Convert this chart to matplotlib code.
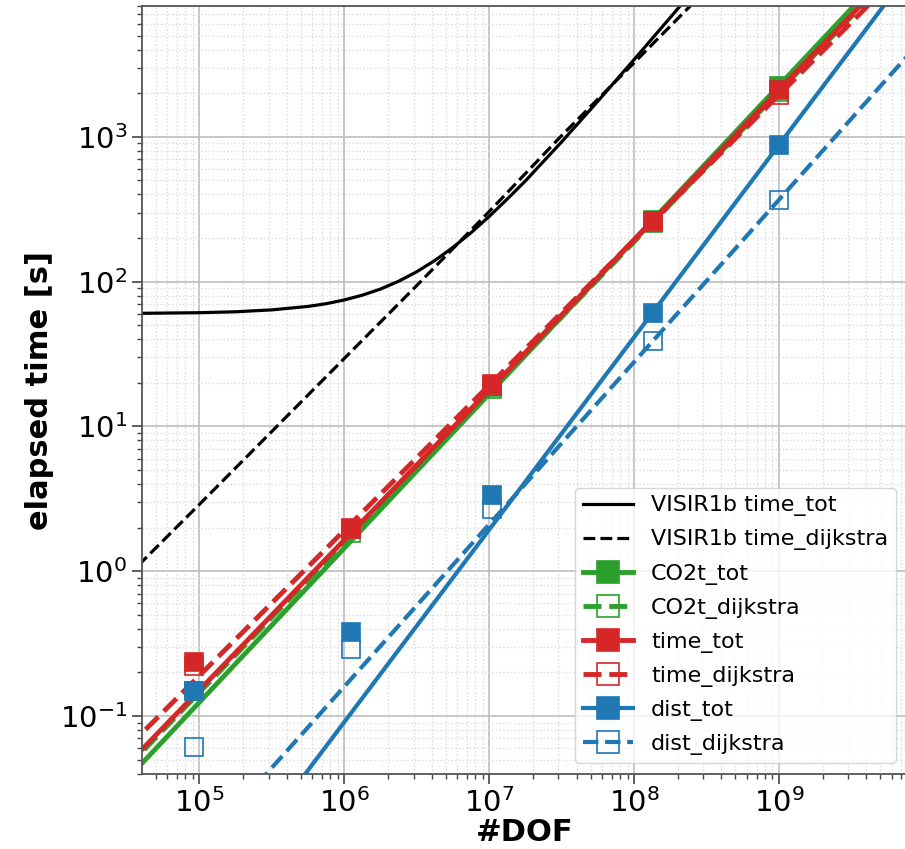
import numpy as np
import matplotlib
matplotlib.use("Agg")
import matplotlib.pyplot as plt
from matplotlib.lines import Line2D

# number of degrees of freedom of each test case
dof = [9.2e4, 1.11e6, 1.05e7, 1.34e8, 1.0e9]

# elapsed times [s]
co2t_tot = [0.15, 1.95, 18.8, 266, 2260]
co2t_dijkstra = [0.148, 1.85, 18.0, 255, 2050]
time_tot = [0.235, 2.0, 19.6, 263, 2110]
time_dijkstra = [0.22, 1.95, 19.0, 260, 1950]
dist_tot = [0.149, 0.38, 3.38, 61, 881]
dist_dijkstra = [0.061, 0.29, 2.67, 38.7, 368]

# VISIR-1b reference curves
visir_tot_dof = [1e4, 3.16e4, 1e5, 1.78e5, 3.16e5, 5.62e5, 7.5e5,
                 1e6, 1.33e6, 1.78e6, 2.37e6, 3.16e6, 4.22e6, 5.62e6, 7.5e6,
                 1e7, 1.33e7, 1.78e7, 3.16e7, 5.62e7, 1e8, 1.78e8, 3.16e8]
visir_tot = [60.06, 60.25, 61.0, 61.9, 63.8, 67.4, 70.4,
             74.7, 80.6, 88.9, 100.6, 117, 140.1, 172.5, 218,
             282, 371.6, 497, 923, 1762, 3417, 6682, 13120]
visir_dij_dof = [1e4, 1e5, 1e6, 3.16e6, 1e7, 3.16e7, 1e8, 3.16e8]
visir_dijkstra = [0.29, 2.9, 29.5, 94, 305, 1020, 3250, 10400]

series = [
    ("CO2t_tot", co2t_tot, "tab:green", "-", True),
    ("CO2t_dijkstra", co2t_dijkstra, "tab:green", "--", False),
    ("time_tot", time_tot, "tab:red", "-", True),
    ("time_dijkstra", time_dijkstra, "tab:red", "--", False),
    ("dist_tot", dist_tot, "tab:blue", "-", True),
    ("dist_dijkstra", dist_dijkstra, "tab:blue", "--", False),
]

fig = plt.figure(figsize=(9.05, 8.49), dpi=100)
ax = fig.add_axes([142 / 905, 75 / 849, 765 / 905, 768 / 849])
ax.set_xscale("log")
ax.set_yscale("log")

ax.plot(visir_tot_dof, visir_tot, color="k", lw=2.3, ls="-")
ax.plot(visir_dij_dof, visir_dijkstra, color="k", lw=2.3, ls="--")

handles = [Line2D([], [], color="k", lw=2.3, ls="-"),
           Line2D([], [], color="k", lw=2.3, ls="--")]
labels = ["VISIR1b time_tot", "VISIR1b time_dijkstra"]

xfit = np.array([1e4, 1e10])
for name, vals, col, ls, filled in series:
    # power-law line through the two largest cases
    p = np.polyfit(np.log10(dof[-2:]), np.log10(vals[-2:]), 1)
    lw = 3.5 if col != "tab:blue" else 3.0
    ax.plot(xfit, 10 ** np.polyval(p, np.log10(xfit)), color=col, ls=ls, lw=lw)
    mfc = col if filled else "none"
    ax.plot(dof, vals, ls="none", marker="s", ms=13, color=col, mfc=mfc, mew=1.2)
    handles.append(Line2D([], [], color=col, ls=ls, lw=lw, marker="s", ms=16,
                          mfc=mfc, mew=1.2))
    labels.append(name)

ax.set_xlim(4.01e4, 7.64e9)
ax.set_ylim(0.0398, 8000)

ax.grid(True, which="major", color="#bdbdbd", lw=1.2)
ax.grid(True, which="minor", color="#dadada", ls=":", lw=1.0)
ax.set_axisbelow(True)
ax.tick_params(which="major", labelsize=21, length=7, width=1.2, color="#444444")
ax.tick_params(which="minor", length=3.5, width=1.0, color="#444444")
for s in ax.spines.values():
    s.set_color("#555555")
    s.set_linewidth(1.3)

ax.set_xlabel("#DOF", fontsize=22, fontweight="bold", labelpad=0)
ax.set_ylabel("elapsed time [s]", fontsize=22, fontweight="bold")

ax.legend(handles, labels, loc="lower right", fontsize=16, handlelength=2.25,
          labelspacing=0.59, borderpad=0.35)

fig.savefig("out.png", dpi=100)
